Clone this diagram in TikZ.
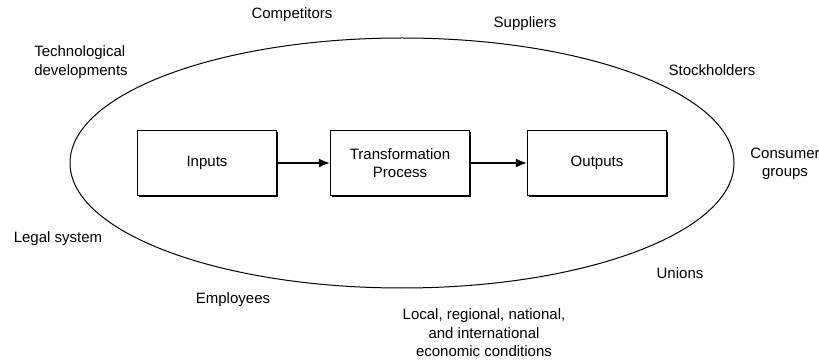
\documentclass[tikz,border=0pt]{standalone}
\usepackage{fontspec}
\setmainfont{Liberation Sans}
\usetikzlibrary{shapes.geometric,shadows,arrows.meta}
\tikzset{
  factor/.style={align=center, font=\fontsize{7.5}{9.3}\selectfont},
  stagebox/.style={draw, line width=0.7pt, fill=white, minimum width=69.5pt, minimum height=32.5pt, factor,
    drop shadow={shadow xshift=0.8pt, shadow yshift=-0.8pt, fill=black, opacity=1}},
  flow/.style={-{Latex[length=5.5pt, width=4.5pt]}, line width=0.7pt}
}
\begin{document}
\begin{tikzpicture}[x=0.5pt, y=0.5pt]
\useasboundingbox (0,0) rectangle (819,359);
\node[ellipse, draw, line width=0.5pt, minimum width=332pt, minimum height=125pt, inner sep=0pt] (env) at (402,196){};
\node[stagebox] (inputs) at (207,196){Inputs};
\node[stagebox] (transf) at (400,196){Transformation\\Process};
\node[stagebox] (outputs) at (597,196){Outputs};
\draw[flow](inputs) -- (transf);
\draw[flow](transf) -- (outputs);
\node[factor] (compet) at (292,344){Competitors};
\node[factor, align=left] (techdev) at (81,297){Technological\\developments};
\node[factor] (suppl) at (525,335){Suppliers};
\node[factor] (stock) at (712,289){Stockholders};
\node[factor] (consum) at (785,195){Consumer\\groups};
\node[factor] (legal) at (58,120){Legal system};
\node[factor] (employ) at (233,59){Employees};
\node[factor] (econ) at (484,26){Local, regional, national,\\and international\\economic conditions};
\node[factor] (unions) at (680,86){Unions};
\end{tikzpicture}
\end{document}
